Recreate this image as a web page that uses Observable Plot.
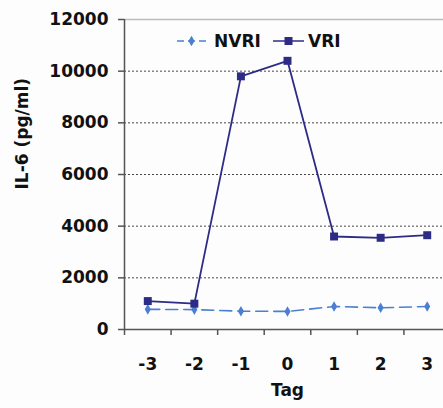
<!DOCTYPE html>
<html>
<head>
<meta charset="utf-8">
<script src="https://cdn.jsdelivr.net/npm/d3@7"></script>
<script src="https://cdn.jsdelivr.net/npm/@observablehq/plot@0.6"></script>
<style>
  html, body { margin: 0; padding: 0; background: #fdfdfd; }
</style>
</head>
<body>
<div id="chart"></div>
<script>
const days = [-3, -2, -1, 0, 1, 2, 3];
const nvriValues = [780, 770, 710, 700, 890, 840, 890];
const vriValues = [1100, 1000, 9800, 10400, 3600, 3550, 3650];
const yTicks = [0, 2000, 4000, 6000, 8000, 10000, 12000];
const seriesNames = ["NVRI", "VRI"];
const xLabel = "Tag";
const yLabel = "IL-6 (pg/ml)";

const nvriColor = "#4b7fd2";
const vriColor = "#2c2c86";

const nvri = days.map((d, i) => ({day: d, v: nvriValues[i]}));
const vri = days.map((d, i) => ({day: d, v: vriValues[i]}));
const bandEdges = days.map(d => d - 0.5).concat([days[days.length - 1] + 0.5]);

const font = "DejaVu Sans";

const chart = Plot.plot({
  width: 443,
  height: 408,
  marginLeft: 124,
  marginRight: -7,
  marginTop: 19,
  marginBottom: 79,
  x: {domain: [bandEdges[0], bandEdges[bandEdges.length - 1]]},
  y: {domain: [0, 12000]},
  style: {fontFamily: font, fontWeight: "bold", fontSize: "17px", background: "#fdfdfd", color: "#111", overflow: "visible"},
  marks: [
    Plot.ruleY(yTicks.filter(t => t > 0 && t < 12000), {stroke: "#333", strokeDasharray: "2,2", strokeWidth: 1, strokeOpacity: 0.9}),
    Plot.ruleY([12000], {stroke: "#bdbdbd", strokeWidth: 1.5}),
    Plot.axisY(yTicks, {tickSize: 6, tickPadding: 10, label: null, fontSize: 17, fontWeight: "bold", stroke: "#555", strokeWidth: 1.5, tickFormat: d3.format("d")}),
    Plot.axisX(bandEdges, {tickSize: 6, tickFormat: () => "", label: null, stroke: "#555", strokeWidth: 1.5}),
    Plot.axisX(days, {tickSize: 0, tickPadding: 28, label: null, fontSize: 17, fontWeight: "bold", tickFormat: d => String(d).replace("−", "-")}),
    Plot.ruleX([bandEdges[0]], {stroke: "#555", strokeWidth: 1.5}),
    Plot.ruleY([0], {stroke: "#555", strokeWidth: 1.5}),
    Plot.line(nvri, {x: "day", y: "v", stroke: nvriColor, strokeWidth: 1.6, strokeDasharray: "12,6"}),
    Plot.dot(nvri, {x: "day", y: "v", symbol: "diamond", r: 3.2, fill: nvriColor, stroke: null}),
    Plot.line(vri, {x: "day", y: "v", stroke: vriColor, strokeWidth: 1.8}),
    Plot.dot(vri, {x: "day", y: "v", symbol: "square", r: 4.5, fill: vriColor, stroke: null}),
    Plot.text([xLabel], {frameAnchor: "bottom", dy: 66, fontSize: 17, fontWeight: "bold", fill: "#111"}),
    Plot.text([yLabel], {frameAnchor: "left", dx: -102, dy: 15, rotate: -90, fontSize: 17, fontWeight: "bold", fill: "#111"})
  ]
});

document.getElementById("chart").appendChild(chart);

// Legend inside the plot area
const svg = d3.select(chart);
const lg = svg.append("g").attr("font-family", font).attr("font-weight", "bold").attr("font-size", 17).attr("text-anchor", "start");
const legendItems = [
  {name: seriesNames[0], color: nvriColor, dash: "7,4", sym: "diamond", x0: 177, x1: 206, tx: 214},
  {name: seriesNames[1], color: vriColor, dash: null, sym: "square", x0: 273, x1: 304, tx: 308}
];
const ly = 41;
legendItems.forEach(it => {
  lg.append("line").attr("x1", it.x0).attr("x2", it.x1).attr("y1", ly).attr("y2", ly)
    .attr("stroke", it.color).attr("stroke-width", 1.5).attr("stroke-dasharray", it.dash);
  const cx = (it.x0 + it.x1) / 2;
  if (it.sym === "diamond") {
    lg.append("path").attr("d", d3.symbol(d3.symbolDiamond, 32)()).attr("transform", `translate(${cx},${ly})`).attr("fill", it.color);
  } else {
    lg.append("rect").attr("x", cx - 4).attr("y", ly - 4).attr("width", 8).attr("height", 8).attr("fill", it.color);
  }
  lg.append("text").attr("x", it.tx).attr("y", ly + 6).attr("text-anchor", "start").attr("fill", "#111").text(it.name);
});
</script>
</body>
</html>
